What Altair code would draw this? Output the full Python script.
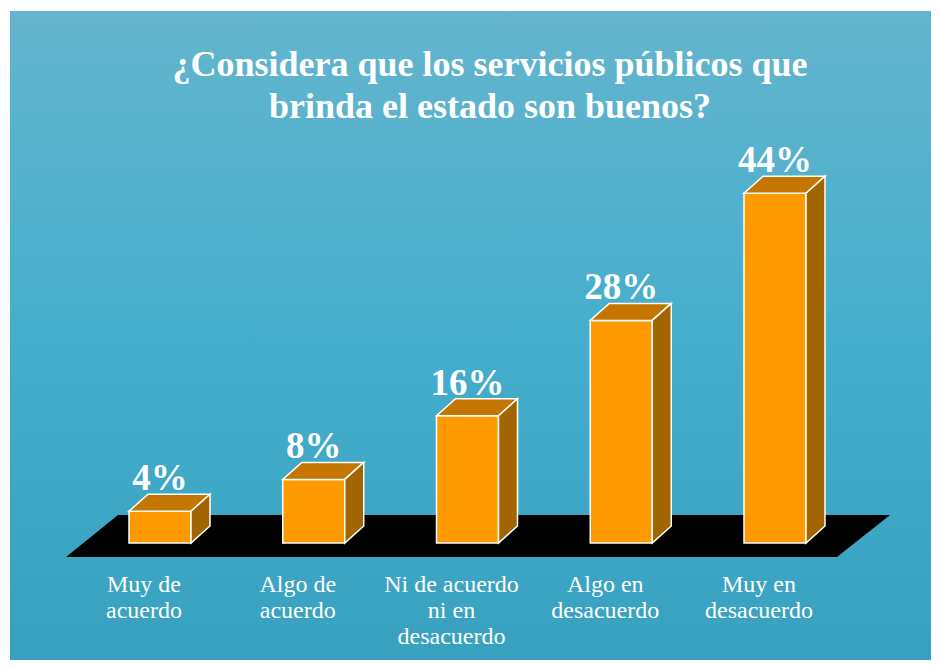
import altair as alt
import pandas as pd

# ---- data ----
categories = ["Muy de\nacuerdo", "Algo de\nacuerdo", "Ni de acuerdo\nni en\ndesacuerdo",
              "Algo en\ndesacuerdo", "Muy en\ndesacuerdo"]
values = [4, 8, 16, 28, 44]
value_labels = ["4%", "8%", "16%", "28%", "44%"]
title_lines = ["¿Considera que los servicios públicos que", "brinda el estado son buenos?"]

# ---- layout (view pixels) ----
W, H = 921, 649
PX_PER_CAT = 153.75
FIRST_CENTER = 150
PX_PER_PCT = 7.95
ZERO_Y = 532

x_dom = [(0 - FIRST_CENTER) / PX_PER_CAT, (W - FIRST_CENTER) / PX_PER_CAT]
y_dom = [(ZERO_Y - H) / PX_PER_PCT, ZERO_Y / PX_PER_PCT]
xs = alt.Scale(domain=x_dom, nice=False, zero=False)
ys = alt.Scale(domain=y_dom, nice=False, zero=False)

HW = 31 / PX_PER_CAT      # half bar width
DX = 19 / PX_PER_CAT      # depth in x
DY = 17 / PX_PER_PCT      # depth in y

FRONT = "#FF9900"
TOP = "#C47600"
SIDE = "#A36500"

idx = list(range(len(values)))
bars = pd.DataFrame({"i": idx, "x0": [i - HW for i in idx], "x1": [i + HW for i in idx],
                     "v": values, "lab": value_labels, "cat": categories, "zero": 0})

top_rows, side_rows = [], []
for i, v in zip(idx, values):
    top_rows += [
        {"b": i, "x": i - HW, "y": v, "y2": v},
        {"b": i, "x": i - HW + DX, "y": v + DY, "y2": v},
        {"b": i, "x": i + HW, "y": v + DY, "y2": v},
        {"b": i, "x": i + HW + DX, "y": v + DY, "y2": v + DY},
    ]
    side_rows += [
        {"b": i, "x": i + HW, "y": v, "y2": 0},
        {"b": i, "x": i + HW + DX, "y": v + DY, "y2": DY},
    ]
top_df = pd.DataFrame(top_rows)
side_df = pd.DataFrame(side_rows)

# floor parallelogram (decoration)
fl_back, fl_front = 3.52, -1.76
floor_df = pd.DataFrame([
    {"x": -0.611, "y": fl_front, "y2": fl_front},
    {"x": -0.273, "y": fl_back, "y2": fl_front},
    {"x": 4.403, "y": fl_back, "y2": fl_front},
    {"x": 4.748, "y": fl_back, "y2": fl_back},
])

bg = alt.Chart(pd.DataFrame({"a": [0]})).mark_rect(
    fill=alt.Gradient(gradient="linear",
                      stops=[alt.GradientStop(color="#64B5CD", offset=0),
                             alt.GradientStop(color="#45AECD", offset=0.5),
                             alt.GradientStop(color="#38A1BF", offset=1)],
                      x1=0, x2=0, y1=0, y2=1)
).encode(x=alt.value(0), x2=alt.value(W), y=alt.value(0), y2=alt.value(H))

floor = alt.Chart(floor_df).mark_area(color="black").encode(
    x=alt.X("x:Q", scale=xs), y=alt.Y("y:Q", scale=ys), y2="y2:Q")

front = alt.Chart(bars).mark_rect(fill=FRONT, stroke="white", strokeWidth=1.5).encode(
    x=alt.X("x0:Q", scale=xs), x2="x1:Q", y=alt.Y("v:Q", scale=ys), y2="zero:Q")

top = alt.Chart(top_df).mark_area(fill=TOP, stroke="white", strokeWidth=1.5).encode(
    x=alt.X("x:Q", scale=xs), y=alt.Y("y:Q", scale=ys), y2="y2:Q", detail="b:N")

side = alt.Chart(side_df).mark_area(fill=SIDE, stroke="white", strokeWidth=1.5).encode(
    x=alt.X("x:Q", scale=xs), y=alt.Y("y:Q", scale=ys), y2="y2:Q", detail="b:N")

bar_labels = alt.Chart(bars).transform_calculate(ly=f"datum.v + {DY}").mark_text(
    font="Liberation Serif", fontSize=37, fontWeight="bold", color="white",
    baseline="alphabetic", dy=-4).encode(
    x=alt.X("i:Q", scale=xs), y=alt.Y("ly:Q", scale=ys), text="lab:N")

cat_labels = alt.Chart(bars).mark_text(
    font="Liberation Serif", fontSize=24, color="white", baseline="alphabetic",
    lineBreak="\n", lineHeight=26, dx=-16).encode(
    x=alt.X("i:Q", scale=xs), y=alt.value(581), text="cat:N")

title_df = pd.DataFrame({"t": title_lines, "ty": [65, 107]})
title = alt.Chart(title_df).mark_text(
    font="Liberation Serif", fontSize=36, fontWeight="bold", color="white",
    baseline="alphabetic").encode(
    x=alt.value(480), y=alt.Y("ty:Q", scale=None), text="t:N")

chart = alt.layer(bg, floor, front, top, side, bar_labels, cat_labels, title).properties(
    width=W, height=H, padding={"left": 2, "top": 3, "right": 0, "bottom": 0},
    autosize=alt.AutoSizeParams(type="none")
).configure_view(stroke=None).configure_axisX(disable=True).configure_axisY(disable=True)

chart.save("out.html", embed_options={"renderer": "svg", "actions": False})
